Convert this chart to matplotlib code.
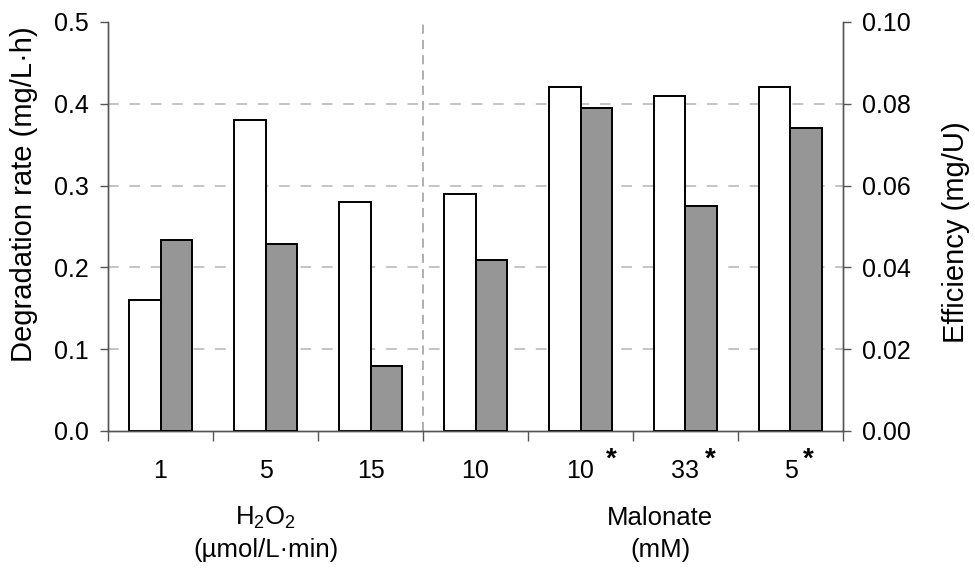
import matplotlib
matplotlib.use("Agg")
import matplotlib.pyplot as plt
import matplotlib.transforms as mtransforms
import numpy as np

plt.rcParams['font.family'] = ['Liberation Sans', 'DejaVu Sans']
plt.rcParams['mathtext.fontset'] = 'custom'
plt.rcParams['mathtext.rm'] = 'Liberation Sans'
plt.rcParams['mathtext.it'] = 'Liberation Sans:italic'
plt.rcParams['mathtext.bf'] = 'Liberation Sans:bold'

# data
tick_labels = ["1", "5", "15", "10", "10", "33", "5"]
starred = [False, False, False, False, True, True, True]
degradation = [0.16, 0.38, 0.28, 0.29, 0.42, 0.41, 0.42]      # mg/L·h (left axis)
efficiency = [0.0467, 0.0457, 0.0159, 0.0418, 0.079, 0.055, 0.074]  # mg/U (right axis)
group_names = [r"H$_2$O$_2$", "Malonate"]
group_units = ["(µmol/L·min)", "(mM)"]

x = np.arange(len(tick_labels))
w = 0.3

fig = plt.figure(figsize=(9.75, 5.68), dpi=100)
ax = fig.add_axes([0.1108, 0.2412, 0.7538, 0.7201])
ax2 = ax.twinx()

ax.bar(x - w / 2, degradation, w, color="white", edgecolor="black", linewidth=1.4, zorder=3)
ax2.bar(x + w / 2, efficiency, w, color="#969696", edgecolor="black", linewidth=1.4, zorder=3)

ax.set_xlim(-0.5, len(x) - 0.5)
ax.set_ylim(0, 0.5)
ax2.set_ylim(0, 0.10)
ax.set_yticks(np.arange(0, 0.51, 0.1))
ax.set_yticklabels([f"{v:.1f}" for v in np.arange(0, 0.51, 0.1)])
ax2.set_yticks(np.arange(0, 0.101, 0.02))
ax2.set_yticklabels([f"{v:.2f}" for v in np.arange(0, 0.101, 0.02)])

# grid
for g in [0.1, 0.2, 0.3, 0.4]:
    ax.axhline(g, color="#b4b4b4", lw=1.1, ls=(0, (7, 7)), zorder=1)
ax.axvline(2.5, color="#9a9a9a", lw=1.1, ls=(0, (6, 4)), zorder=1)

# x ticks at boundaries, labels at centers
ax.set_xticks(np.arange(-0.5, len(x), 1.0))
ax.set_xticklabels([])
ax.set_xticks(x, minor=True)
ax.set_xticklabels(tick_labels, minor=True, fontsize=18)
ax.tick_params(axis="x", which="major", direction="out", length=7, width=1, color="#555555")
ax.tick_params(axis="x", which="minor", length=0, pad=20)
ax.tick_params(axis="y", direction="out", length=6, width=1, color="#555555", labelsize=18, pad=8)
ax2.tick_params(axis="y", direction="out", length=6, width=1, color="#555555", labelsize=18, pad=8)

for a in (ax, ax2):
    a.spines["top"].set_visible(False)
    for s in ("left", "right", "bottom"):
        a.spines[s].set_color("#555555")
        a.spines[s].set_linewidth(1)

# axis titles, anchored at their bottom end
fig.text(0.0246, 0.3627, "Degradation rate (mg/L·h)", rotation=90, rotation_mode="anchor",
         ha="left", va="center", fontsize=21)
fig.text(0.9805, 0.396, "Efficiency (mg/U)", rotation=90, rotation_mode="anchor",
         ha="left", va="center", fontsize=21)

# asterisks after starred labels
for i, s in enumerate(starred):
    if s:
        lab = tick_labels[i]
        off = 0.5 * len(lab) * 0.556 * 18 + 8 + (4 if lab == "10" else 0)
        ax.annotate("*", xy=(i, 0), xycoords=("data", "axes fraction"),
                    xytext=(off, -25.5), textcoords="offset points",
                    ha="center", va="baseline", fontsize=20, fontweight="bold")

trans = mtransforms.blended_transform_factory(ax.transData, ax.transAxes)
group_x = [1, 4.76]
for gx, name, unit in zip(group_x, group_names, group_units):
    ax.text(gx, -0.213, name, transform=trans, ha="center", va="center", fontsize=18.5)
    ax.text(gx, -0.292, unit, transform=trans, ha="center", va="center", fontsize=18.5)

fig.savefig("out.png", dpi=100)
